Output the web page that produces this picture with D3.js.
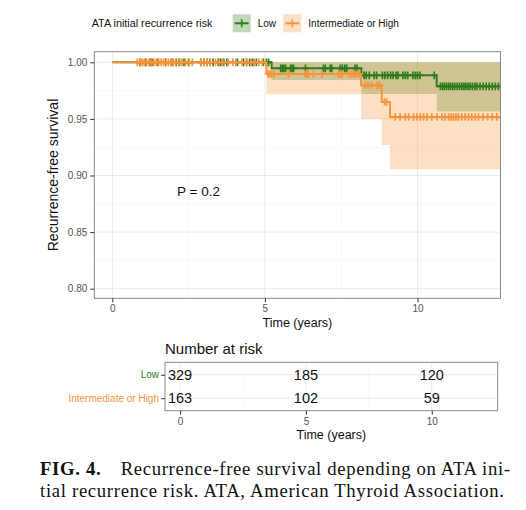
<!DOCTYPE html>
<html>
<head>
<meta charset="utf-8">
<script src="https://cdn.jsdelivr.net/npm/d3@7"></script>
<style>
  body { margin: 0; background: #fff; }
  svg { display: block; font-family: "Liberation Sans", Arial, sans-serif; }
</style>
</head>
<body>
<div id="root"></div>
<script>
// groups and colours
const groups = ["Low", "Intermediate or High"];
const groupColors = ["#2e7d1f", "#f7943a"];

// Kaplan-Meier steps
const lowTimes = [0, 5.22, 8.16, 10.63];
const lowSurv = [1, 0.9947, 0.9885, 0.9788];
const lowLower = [1, 0.9844, 0.9720, 0.9565];
const lowUpper = [1, 1, 1, 1];

const highTimes = [0, 5.05, 8.15, 8.83, 9.10];
const highSurv = [1, 0.9897, 0.9797, 0.9650, 0.9517];
const highLower = [1, 0.9717, 0.9500, 0.9270, 0.9055];
const highUpper = [1, 1, 1, 1, 1];

const endTime = 12.72;

// censoring marks (times)
const lowCensor = [0.9, 1.1, 1.24, 1.3, 1.5, 1.75, 1.95, 2.1, 2.2, 2.35, 2.5, 2.9, 3.0, 3.1, 3.2, 3.3,
  3.47, 3.55, 3.65, 3.75, 4.1, 4.3, 4.4, 4.5, 4.6, 4.72, 4.95, 5.05, 5.12,
  5.52, 5.57, 5.62, 5.68, 5.84, 5.89, 5.94, 6.33, 6.92, 6.98, 7.14, 7.19, 7.47, 7.54, 7.62, 7.68, 7.95, 8.02,
  8.25, 8.32, 8.42, 8.58, 8.66, 8.85, 8.93, 9.02, 9.12, 9.2, 9.3, 9.36, 9.52, 9.6, 9.68, 9.85, 9.93, 10.0, 10.08, 10.55,
  10.75, 10.82, 10.88, 10.95, 11.02, 11.08, 11.15, 11.22, 11.3, 11.38, 11.45, 11.52, 11.58, 11.65, 11.72,
  11.8, 11.88, 11.95, 12.05, 12.15, 12.25, 12.35, 12.45, 12.55, 12.65];
const highCensor = [0.82, 0.9, 0.97, 1.04, 1.12, 1.2, 1.28, 1.36, 1.44, 1.52, 1.6, 1.68, 1.76, 1.84, 1.92, 2.0,
  2.08, 2.18, 2.28, 2.4, 2.52, 2.62, 2.9, 3.0, 3.1, 3.2, 3.38, 3.5, 3.62, 3.8, 3.95, 4.05, 4.25, 4.4, 4.55, 4.65, 4.8, 4.92,
  5.1, 5.16, 5.22, 5.3, 5.77, 6.32, 6.38, 6.42, 6.59, 6.87, 7.41, 7.48, 7.54, 7.74, 7.82, 7.9, 7.96, 8.03, 8.1,
  8.28, 8.38, 8.5, 8.68, 8.75, 8.92, 8.99,
  9.27, 9.43, 9.6, 9.71, 9.87, 9.98, 10.09, 10.2, 10.31, 10.47, 10.64, 10.8, 10.9, 11.02, 11.1, 11.18, 11.26,
  11.34, 11.45, 11.56, 11.67, 11.78, 11.89, 12.0, 12.15, 12.3, 12.45, 12.6];

// axes
const timeTicks = [0, 5, 10];
const timeMinor = [2.5, 7.5];
const survTicks = [0.80, 0.85, 0.90, 0.95, 1.00];
const survMinor = [0.825, 0.875, 0.925, 0.975];

// number at risk
const riskTimes = [0, 5, 10];
const riskLow = [329, 185, 120];
const riskHigh = [163, 102, 59];

const pText = "P = 0.2";

const series = [
  { name: groups[0], color: groupColors[0], t: lowTimes, s: lowSurv, lo: lowLower, hi: lowUpper, cens: lowCensor },
  { name: groups[1], color: groupColors[1], t: highTimes, s: highSurv, lo: highLower, hi: highUpper, cens: highCensor }
];

const W = 526, H = 510;
const svg = d3.select("#root").append("svg").attr("width", W).attr("height", H);
svg.append("rect").attr("width", W).attr("height", H).attr("fill", "#fff");

const panel = { left: 94.3, right: 500.5, top: 51.7, bottom: 298.3 };
const x = d3.scaleLinear().domain([-0.59, 12.72]).range([panel.left, panel.right]);
const y = d3.scaleLinear().domain([0.7915, 1.0094]).range([panel.bottom, panel.top]);

const grid = svg.append("g");
grid.selectAll(".vmin").data(timeMinor).enter().append("line")
  .attr("x1", d => x(d)).attr("x2", d => x(d)).attr("y1", panel.top).attr("y2", panel.bottom)
  .attr("stroke", "#f3f3f3").attr("stroke-width", 0.6);
grid.selectAll(".hmin").data(survMinor).enter().append("line")
  .attr("y1", d => y(d)).attr("y2", d => y(d)).attr("x1", panel.left).attr("x2", panel.right)
  .attr("stroke", "#f3f3f3").attr("stroke-width", 0.6);
grid.selectAll(".vmaj").data(timeTicks).enter().append("line")
  .attr("x1", d => x(d)).attr("x2", d => x(d)).attr("y1", panel.top).attr("y2", panel.bottom)
  .attr("stroke", "#ebebeb").attr("stroke-width", 1);
grid.selectAll(".hmaj").data(survTicks).enter().append("line")
  .attr("y1", d => y(d)).attr("y2", d => y(d)).attr("x1", panel.left).attr("x2", panel.right)
  .attr("stroke", "#ebebeb").attr("stroke-width", 1);

svg.append("clipPath").attr("id", "clip").append("rect")
  .attr("x", panel.left).attr("y", panel.top)
  .attr("width", panel.right - panel.left).attr("height", panel.bottom - panel.top);

const plot = svg.append("g").attr("clip-path", "url(#clip)");

function stepPoints(sr, key) {
  const pts = sr.t.map((t, i) => ({ t: t, v: sr[key][i], lo: sr.lo[i], hi: sr.hi[i] }));
  const last = pts[pts.length - 1];
  pts.push({ t: endTime, v: last.v, lo: last.lo, hi: last.hi });
  return pts;
}
function survAt(sr, t) {
  let v = sr.s[0];
  sr.t.forEach((tt, i) => { if (t >= tt) v = sr.s[i]; });
  return v;
}

const area = d3.area().curve(d3.curveStepAfter)
  .x(d => x(d.t)).y0(d => y(d.lo)).y1(d => y(d.hi));
const line = d3.line().curve(d3.curveStepAfter)
  .x(d => x(d.t)).y(d => y(d.v));

series.forEach(sr => {
  plot.append("path").attr("d", area(stepPoints(sr, "s")))
    .attr("fill", sr.color).attr("fill-opacity", 0.3);
});
series.forEach(sr => {
  plot.append("path").attr("d", line(stepPoints(sr, "s")))
    .attr("fill", "none").attr("stroke", sr.color).attr("stroke-width", 2);
  const cg = plot.append("g").attr("stroke", sr.color).attr("stroke-width", 1.7);
  sr.cens.forEach(t => {
    const cx = x(t), cy = y(survAt(sr, t));
    cg.append("line").attr("x1", cx).attr("x2", cx).attr("y1", cy - 3.8).attr("y2", cy + 3.8);
    cg.append("line").attr("x1", cx - 3.2).attr("x2", cx + 3.2).attr("y1", cy).attr("y2", cy);
  });
});

svg.append("rect").attr("x", panel.left).attr("y", panel.top)
  .attr("width", panel.right - panel.left).attr("height", panel.bottom - panel.top)
  .attr("fill", "none").attr("stroke", "#8a8a8a").attr("stroke-width", 1);

// axes
const yAxis = d3.axisLeft(y).tickValues(survTicks).tickFormat(d3.format(".2f")).tickSize(4).tickPadding(3);
const gy = svg.append("g").attr("transform", `translate(${panel.left},0)`).call(yAxis);
const xAxis = d3.axisBottom(x).tickValues(timeTicks).tickSize(4).tickPadding(3);
const gx = svg.append("g").attr("transform", `translate(0,${panel.bottom})`).call(xAxis);
[gx, gy].forEach(g => {
  g.select(".domain").remove();
  g.selectAll(".tick line").attr("stroke", "#333");
  g.selectAll(".tick text").attr("fill", "#555").attr("font-size", 10)
    .attr("font-family", "'Liberation Sans', Arial, sans-serif");
});

svg.append("text").attr("transform", `translate(53,${(panel.top + panel.bottom) / 2}) rotate(-90)`)
  .attr("text-anchor", "middle").attr("dominant-baseline", "central")
  .attr("font-size", 14).attr("fill", "#111").text("Recurrence-free survival");
svg.append("text").attr("x", (panel.left + panel.right) / 2).attr("y", 323)
  .attr("text-anchor", "middle").attr("dominant-baseline", "central")
  .attr("font-size", 12.5).attr("fill", "#111").text("Time (years)");

svg.append("text").attr("x", x(2.12)).attr("y", y(0.8857))
  .attr("dominant-baseline", "central").attr("font-size", 13.5).attr("fill", "#111").text(pText);

// legend
const leg = svg.append("g").attr("transform", "translate(0,23.3)");
leg.append("text").attr("x", 91.7).attr("dominant-baseline", "central")
  .attr("font-size", 10.8).attr("fill", "#111").text("ATA initial recurrence risk");
const legX = [232.7, 283.3];
series.forEach((sr, i) => {
  const gi = leg.append("g").attr("transform", `translate(${legX[i]},0)`);
  gi.append("rect").attr("x", 0).attr("y", -9).attr("width", 18).attr("height", 18)
    .attr("fill", sr.color).attr("fill-opacity", 0.3);
  gi.append("line").attr("x1", 2).attr("x2", 16).attr("stroke", sr.color).attr("stroke-width", 2);
  gi.append("line").attr("x1", 9).attr("x2", 9).attr("y1", -4).attr("y2", 4).attr("stroke", sr.color).attr("stroke-width", 1.6);
  gi.append("text").attr("x", 25).attr("dominant-baseline", "central")
    .attr("font-size", 10).attr("fill", "#111").text(sr.name);
});

// number at risk table
const tpanel = { left: 165, right: 497.7, top: 362.3, bottom: 410.7 };
const xt = d3.scaleLinear().domain([-0.6, 12.62]).range([tpanel.left, tpanel.right]);
const yt = d3.scaleBand().domain(groups).range([tpanel.top, tpanel.bottom]).paddingOuter(0.03);

svg.append("text").attr("x", 165).attr("y", 348.3).attr("dominant-baseline", "central")
  .attr("font-size", 15).attr("fill", "#111").text("Number at risk");

const tg = svg.append("g");
tg.selectAll(".vmin").data(timeMinor).enter().append("line")
  .attr("x1", d => xt(d)).attr("x2", d => xt(d)).attr("y1", tpanel.top).attr("y2", tpanel.bottom)
  .attr("stroke", "#f3f3f3").attr("stroke-width", 0.6);
tg.selectAll(".vmaj").data(timeTicks).enter().append("line")
  .attr("x1", d => xt(d)).attr("x2", d => xt(d)).attr("y1", tpanel.top).attr("y2", tpanel.bottom)
  .attr("stroke", "#ebebeb").attr("stroke-width", 1);
tg.selectAll(".hmaj").data(groups).enter().append("line")
  .attr("y1", d => yt(d) + yt.bandwidth() / 2).attr("y2", d => yt(d) + yt.bandwidth() / 2)
  .attr("x1", tpanel.left).attr("x2", tpanel.right)
  .attr("stroke", "#ebebeb").attr("stroke-width", 1);

const riskRows = [riskLow, riskHigh];
groups.forEach((gname, gi) => {
  tg.selectAll(".n" + gi).data(riskRows[gi]).enter().append("text")
    .attr("x", (d, i) => xt(riskTimes[i])).attr("y", yt(gname) + yt.bandwidth() / 2)
    .attr("text-anchor", "middle").attr("dominant-baseline", "central")
    .attr("font-size", 14.5).attr("fill", "#111").text(d => d);
});

svg.append("rect").attr("x", tpanel.left).attr("y", tpanel.top)
  .attr("width", tpanel.right - tpanel.left).attr("height", tpanel.bottom - tpanel.top)
  .attr("fill", "none").attr("stroke", "#8a8a8a").attr("stroke-width", 1);

const tyAxis = d3.axisLeft(d3.scalePoint().domain(groups)
  .range([yt(groups[0]) + yt.bandwidth() / 2, yt(groups[1]) + yt.bandwidth() / 2])).tickSize(4).tickPadding(2);
const gty = svg.append("g").attr("transform", `translate(${tpanel.left},0)`).call(tyAxis);
gty.select(".domain").remove();
gty.selectAll(".tick line").attr("stroke", "#333");
gty.selectAll(".tick text").attr("font-size", 10)
  .attr("font-family", "'Liberation Sans', Arial, sans-serif")
  .attr("fill", (d, i) => groupColors[i]);

const txAxis = d3.axisBottom(xt).tickValues(timeTicks).tickSize(4).tickPadding(3);
const gtx = svg.append("g").attr("transform", `translate(0,${tpanel.bottom})`).call(txAxis);
gtx.select(".domain").remove();
gtx.selectAll(".tick line").attr("stroke", "#333");
gtx.selectAll(".tick text").attr("fill", "#555").attr("font-size", 10)
  .attr("font-family", "'Liberation Sans', Arial, sans-serif");

svg.append("text").attr("x", (tpanel.left + tpanel.right) / 2).attr("y", 435)
  .attr("text-anchor", "middle").attr("dominant-baseline", "central")
  .attr("font-size", 12.5).attr("fill", "#111").text("Time (years)");

// caption
const cap = svg.append("g").attr("font-family", "'Liberation Serif', 'Times New Roman', serif")
  .attr("font-size", 18.7).attr("fill", "#111");
const l1 = cap.append("text").attr("x", 40).attr("y", 475)
  .attr("textLength", 470).attr("lengthAdjust", "spacing");
l1.append("tspan").attr("font-weight", "bold").text("FIG. 4.");
l1.append("tspan").text("\u2003Recurrence-free survival depending on ATA ini-");
cap.append("text").attr("x", 40).attr("y", 497)
  .attr("textLength", 464).attr("lengthAdjust", "spacing")
  .text("tial recurrence risk. ATA, American Thyroid Association.");
</script>
</body>
</html>
